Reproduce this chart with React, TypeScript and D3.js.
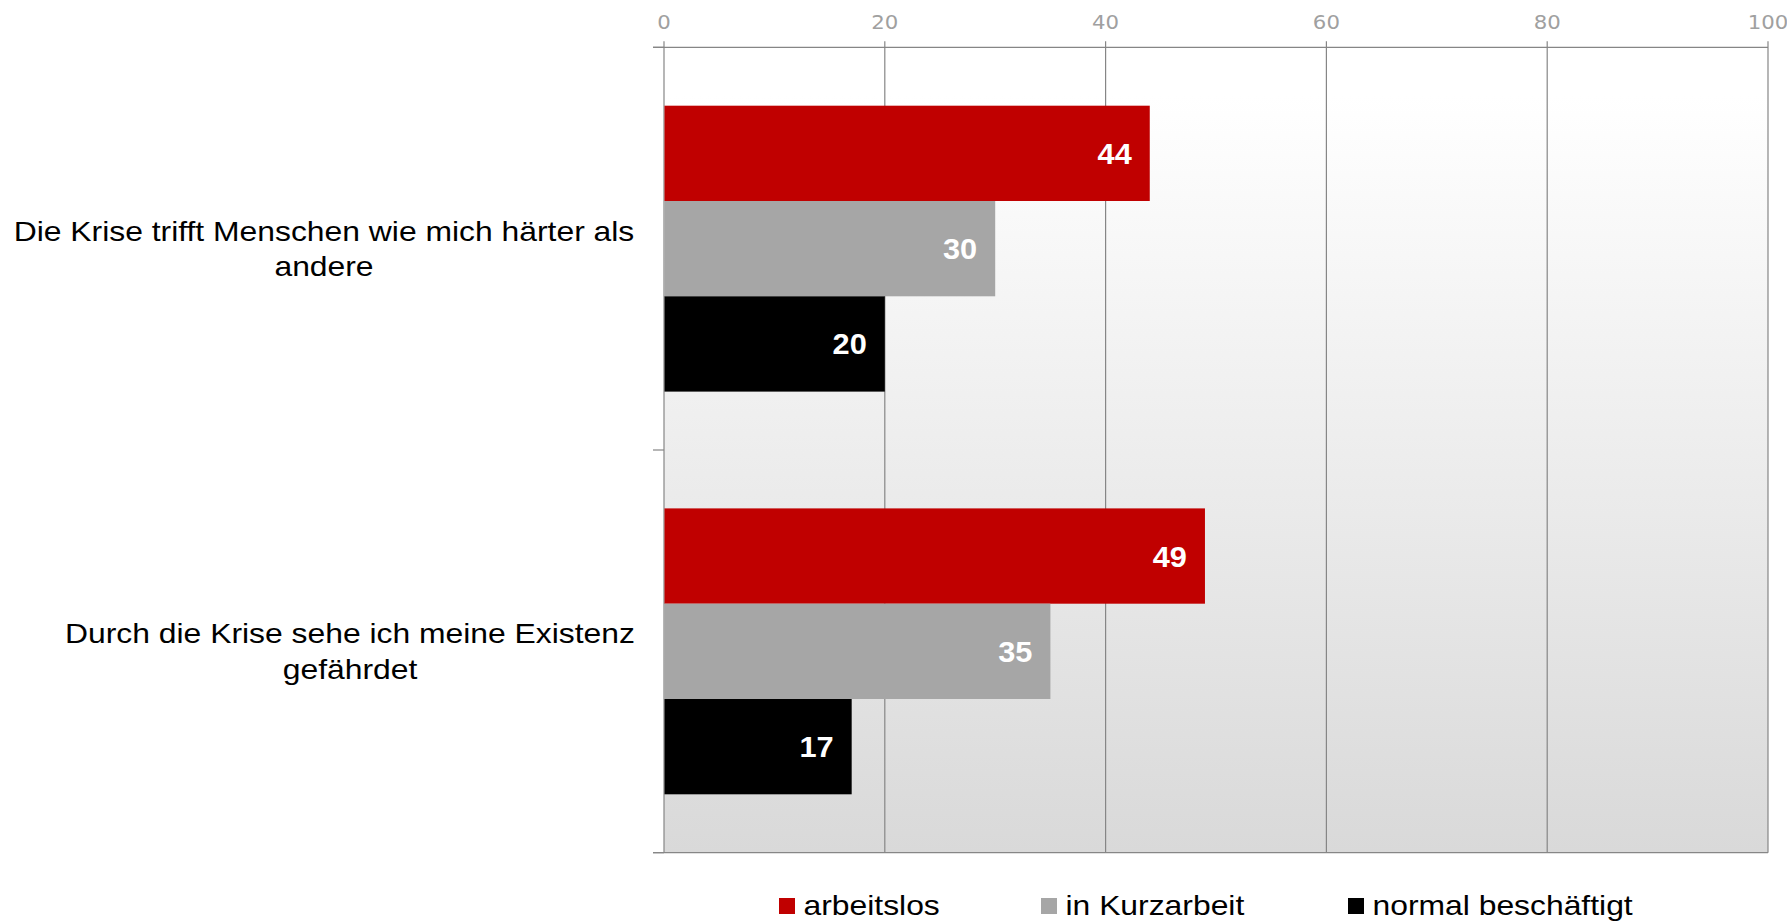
import React from "react";
import * as d3 from "d3";

const categories = [
  ["Die Krise trifft Menschen wie mich härter als", "andere"],
  ["Durch die Krise sehe ich meine Existenz", "gefährdet"],
];
const categoryKeys = ["c1", "c2"];
const seriesNames = ["arbeitslos", "in Kurzarbeit", "normal beschäftigt"];
const seriesColors = ["#C00000", "#A6A6A6", "#000000"];
const arbeitslos = [44, 49];
const kurzarbeit = [30, 35];
const normal = [20, 17];
const seriesValues = [arbeitslos, kurzarbeit, normal];
const xTicks = [0, 20, 40, 60, 80, 100];

const W = 1787;
const H = 922;
const left = 664;
const right = 1768;
const top = 47.3;
const bottom = 852.7;
const SX = 1.18;

export default function App() {
  const x = d3.scaleLinear().domain([0, 100]).range([left, right]);
  const y = d3.scaleBand<string>().domain(categoryKeys).range([top, bottom]).padding(0);
  const bw = y.bandwidth();
  const pad = bw * 0.145;
  const inner = d3
    .scaleBand<string>()
    .domain(seriesNames)
    .range([pad, bw - pad])
    .padding(0);

  const gridColor = "#868686";
  const sans = "'Liberation Sans', Arial, sans-serif";

  const legendX = [779, 1041, 1348];

  return (
    <svg
      width={W}
      height={H}
      style={{ position: "absolute", left: 0, top: 0, background: "#fff" }}
    >
      <defs>
        <linearGradient id="bg" x1="0" y1="0" x2="0" y2="1">
          <stop offset="0" stopColor="#ffffff" />
          <stop offset="0.06" stopColor="#ffffff" />
          <stop offset="1" stopColor="#d9d9d9" />
        </linearGradient>
      </defs>
      <rect x={left} y={top} width={right - left} height={bottom - top} fill="url(#bg)" />

      {xTicks.map((t) => (
        <line
          key={"g" + t}
          x1={x(t)}
          x2={x(t)}
          y1={top - 6}
          y2={bottom}
          stroke={gridColor}
          strokeWidth={1.2}
        />
      ))}
      <line x1={left - 11} x2={right} y1={top} y2={top} stroke={gridColor} strokeWidth={1.2} />
      <line x1={left - 11} x2={right} y1={bottom} y2={bottom} stroke={gridColor} strokeWidth={1.2} />
      {[top, (y("c2") as number), bottom].map((yy, i) => (
        <line key={"ct" + i} x1={left - 11} x2={left} y1={yy} y2={yy} stroke={gridColor} strokeWidth={1.2} />
      ))}

      {xTicks.map((t) => (
        <text
          key={"tl" + t}
          transform={`translate(${x(t)},29) scale(1.12,1)`}
          textAnchor="middle"
          fontFamily="'DejaVu Sans', Verdana, sans-serif"
          fontSize={19}
          fill="#a0a0a0"
        >
          {t}
        </text>
      ))}

      {categoryKeys.map((ck, ci) => (
        <g key={ck} transform={`translate(0,${y(ck)})`}>
          {seriesNames.map((s, si) => {
            const v = seriesValues[si][ci];
            const yy = inner(s) as number;
            const h = inner.bandwidth();
            return (
              <g key={s}>
                <rect x={x(0) + 0.5} y={yy} width={x(v) - x(0) - 0.5} height={h} fill={seriesColors[si]} />
                <text
                  transform={`translate(${x(v) - 18},${yy + h / 2 + 10.5}) scale(1.06,1)`}
                  textAnchor="end"
                  fontFamily={sans}
                  fontWeight="bold"
                  fontSize={29}
                  fill="#ffffff"
                >
                  {v}
                </text>
              </g>
            );
          })}
        </g>
      ))}

      {categoryKeys.map((ck, ci) => {
        const cy = (y(ck) as number) + bw / 2;
        const lines = categories[ci];
        const cx = ci === 0 ? 324 : 350;
        return (
          <g key={"cl" + ck}>
            {lines.map((ln, li) => (
              <text
                key={li}
                transform={`translate(${cx},${cy - 8 + li * 35.5}) scale(${SX},1)`}
                textAnchor="middle"
                fontFamily={sans}
                fontSize={27}
                fill="#000"
              >
                {ln}
              </text>
            ))}
          </g>
        );
      })}

      {seriesNames.map((s, si) => (
        <g key={"lg" + s}>
          <rect x={legendX[si]} y={898} width={16} height={16} fill={seriesColors[si]} />
          <text
            transform={`translate(${legendX[si] + 24.5},915) scale(${SX},1)`}
            fontFamily={sans}
            fontSize={27}
            fill="#000"
          >
            {s}
          </text>
        </g>
      ))}
    </svg>
  );
}
